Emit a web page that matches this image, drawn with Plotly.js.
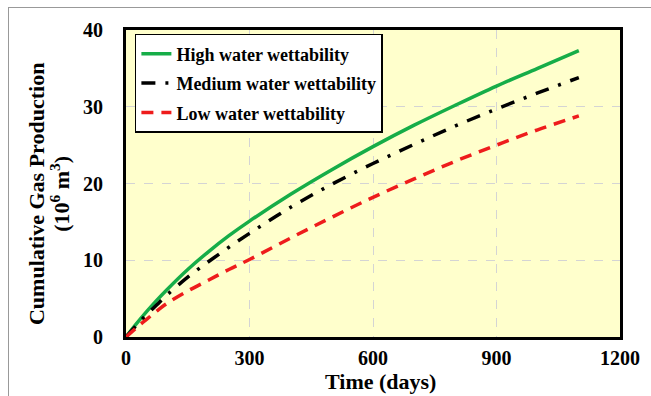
<!DOCTYPE html>
<html><head><meta charset="utf-8">
<script src="https://cdn.plot.ly/plotly-3.0.1.min.js"></script>
<style>html,body{margin:0;padding:0;background:#fff;}#wrap{position:relative;width:651px;height:396px;}
#frame{position:absolute;left:8px;top:7px;right:0;bottom:0;border-left:1px solid #999;border-top:1px solid #999;pointer-events:none;}</style>
</head><body><div id="wrap"><div id="chart" style="width:651px;height:396px;"></div><div id="frame"></div></div>
<script>
const time    = [0, 25, 50, 75, 100, 150, 200, 250, 300, 400, 500, 600, 700, 800, 900, 1000, 1100];
const highWet = [0, 1.7, 3.3, 4.8, 6.2, 8.8, 11.1, 13.2, 15.1, 18.6, 21.8, 24.8, 27.6, 30.2, 32.7, 35.0, 37.3];
const medWet  = [0, 1.5, 2.9, 4.2, 5.5, 7.8, 9.8, 11.7, 13.5, 16.9, 19.9, 22.6, 25.1, 27.5, 29.7, 31.8, 33.8];
const lowWet  = [0, 1.2, 2.3, 3.4, 4.4, 6.0, 7.4, 8.8, 10.1, 12.9, 15.6, 18.2, 20.6, 22.9, 25.0, 27.0, 28.8];
const names = ['High water wettability', 'Medium water wettability', 'Low water wettability'];
const xTicks = [0, 300, 600, 900, 1200];
const yTicks = [0, 10, 20, 30, 40];
const xTitle = 'Time (days)';
const yTitle1 = 'Cumulative Gas Production';
const yTitle2 = '(10<sup>6</sup> m<sup>3</sup>)';

const serif = 'Liberation Serif, Times New Roman, serif';
const traces = [
  {x: time, y: highWet, name: names[0], legendgroup: 'a', mode: 'lines', line: {color: '#16ad48', width: 3.5, shape: 'spline'}},
  {x: time, y: medWet, name: names[1], legendgroup: 'b', mode: 'lines', line: {color: '#000000', width: 3.5, dash: '14px,10px,3px,10px', shape: 'spline'}},
  {x: time, y: lowWet, name: names[2], legendgroup: 'c', mode: 'lines', line: {color: '#ee1c1c', width: 3.5, dash: '12px,8px', shape: 'spline'}}
];
const titleFont = {family: serif, size: 22, weight: 'bold', color: '#000'};
const layout = {
  width: 651, height: 396,
  margin: {l: 126, r: 31, t: 30, b: 59},
  paper_bgcolor: '#ffffff',
  plot_bgcolor: '#ffffcc',
  font: {family: serif, color: '#000', size: 16, weight: 'bold'},
  showlegend: true,
  legend: {x: 0.018, y: 0.987, xanchor: 'left', yanchor: 'top', bgcolor: '#ffffff', bordercolor: '#000', borderwidth: 1.5,
           font: {family: serif, size: 18, weight: 'bold'}, traceorder: 'grouped', tracegroupgap: 3},
  xaxis: {range: [0, 1200], tickvals: xTicks, ticktext: xTicks.map(String), showline: true, mirror: true, linecolor: '#000', linewidth: 3,
          showgrid: true, gridcolor: '#d4d4d4', griddash: 'dash', gridwidth: 1, zeroline: false, ticks: '', ticklabelstandoff: 1,
          tickfont: {family: serif, size: 20, weight: 'bold'}},
  yaxis: {range: [0, 40], tickvals: yTicks, ticktext: yTicks.map(String), showline: true, mirror: true, linecolor: '#000', linewidth: 3,
          showgrid: true, gridcolor: '#d4d4d4', griddash: 'dash', gridwidth: 1, zeroline: false, ticks: '', ticklabelstandoff: 16,
          tickfont: {family: serif, size: 20, weight: 'bold'}},
  annotations: [
    {text: xTitle, xref: 'paper', yref: 'paper', x: 0.516, y: -0.146, xanchor: 'center', yanchor: 'middle', showarrow: false, font: titleFont},
    {text: yTitle1, xref: 'paper', yref: 'paper', x: -0.180, y: 0.466, xanchor: 'center', yanchor: 'middle', textangle: -90, showarrow: false, font: titleFont},
    {text: yTitle2, xref: 'paper', yref: 'paper', x: -0.134, y: 0.466, xanchor: 'center', yanchor: 'middle', textangle: -90, showarrow: false, font: titleFont}
  ]
};
Plotly.newPlot('chart', traces, layout, {staticPlot: true, displayModeBar: false});
</script></body></html>
